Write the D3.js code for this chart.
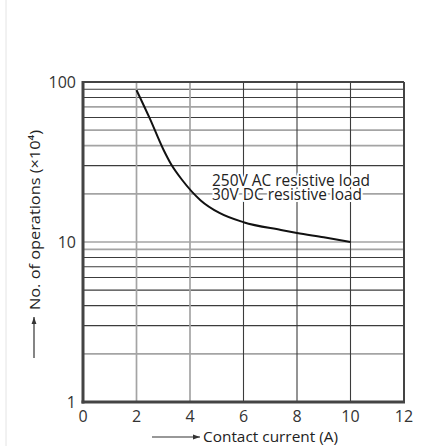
<!DOCTYPE html>
<html><head><meta charset="utf-8">
<script src="https://cdn.jsdelivr.net/npm/d3@7"></script>
<style>body{margin:0;background:#fff}svg{display:block}</style>
</head><body>
<svg id="c" width="445" height="446"></svg>
<script>
const currentA = [2, 2.5, 3, 3.3, 3.7, 4.4, 5.1, 6, 7.4, 8, 9, 10];
const operations = [89, 59, 38, 30.5, 24.5, 18.2, 15.2, 13.3, 11.9, 11.4, 10.7, 10.0];
const xTicks = [0, 2, 4, 6, 8, 10, 12];
const yTicks = [1, 10, 100];
const yGrid = [2, 3, 4, 5, 6, 7, 8, 9, 10, 20, 30, 40, 50, 60, 70, 80, 90];
const yGridDark = [90, 80, 60, 30, 8, 7, 6, 5, 4, 3];
const xGrid = [2, 4, 6, 8, 10];
const xGridDark = [6, 8, 10];
const labelLines = ["250V AC resistive load", "30V DC resistive load"];
const xTitle = "Contact current (A)";
const yTitle = "No. of operations (×10⁴)";

const svg = d3.select("#c");
const x = d3.scaleLinear().domain([0, 12]).range([83, 404]);
const y = d3.scaleLog().domain([1, 100]).range([402, 82]);
const font = "'Open Sans', 'Noto Sans', sans-serif";

// faint page border
svg.append("line").attr("x1", 6).attr("x2", 6).attr("y1", 0).attr("y2", 446)
  .attr("stroke", "#e4e4e4").attr("stroke-width", 1);

const g = svg.append("g");
g.selectAll("line.hg").data(yGrid).join("line")
  .attr("x1", x(0)).attr("x2", x(12))
  .attr("y1", d => y(d)).attr("y2", d => y(d))
  .attr("stroke", d => yGridDark.includes(d) ? "#3c3c3c" : "#a4a4a4")
  .attr("stroke-width", d => yGridDark.includes(d) ? 1.1 : 1.7);
g.selectAll("line.vg").data(xGrid).join("line")
  .attr("y1", y(1)).attr("y2", y(100))
  .attr("x1", d => x(d)).attr("x2", d => x(d))
  .attr("stroke", d => xGridDark.includes(d) ? "#3c3c3c" : "#a4a4a4")
  .attr("stroke-width", d => xGridDark.includes(d) ? 1.1 : 1.7);

// frame
svg.append("line").attr("x1", x(0)).attr("x2", x(12)).attr("y1", y(100)).attr("y2", y(100))
  .attr("stroke", "#444").attr("stroke-width", 2);
svg.append("line").attr("x1", x(12)).attr("x2", x(12)).attr("y1", y(100)).attr("y2", y(1))
  .attr("stroke", "#444").attr("stroke-width", 2);
svg.append("line").attr("x1", x(0)).attr("x2", x(0)).attr("y1", y(100) - 1).attr("y2", y(1) + 1.5)
  .attr("stroke", "#444").attr("stroke-width", 3);
svg.append("line").attr("x1", x(0) - 1.5).attr("x2", x(12) + 1).attr("y1", y(1)).attr("y2", y(1))
  .attr("stroke", "#444").attr("stroke-width", 3);

// curve label with white halo
const lab = svg.append("text").attr("font-family", font).attr("font-size", 15.5)
  .attr("fill", "#222").attr("stroke", "#fff").attr("stroke-width", 4)
  .attr("paint-order", "stroke").attr("stroke-linejoin", "round");
lab.append("tspan").attr("x", 212).attr("y", 186).text(labelLines[0])
  .attr("textLength", 158).attr("lengthAdjust", "spacingAndGlyphs");
lab.append("tspan").attr("x", 212).attr("y", 200).text(labelLines[1])
  .attr("textLength", 150).attr("lengthAdjust", "spacingAndGlyphs");

// curve
const line = d3.line().x((d, i) => x(currentA[i])).y(d => y(d)).curve(d3.curveMonotoneX);
svg.append("path").attr("d", line(operations)).attr("fill", "none")
  .attr("stroke", "#111").attr("stroke-width", 2);

// tick labels
svg.selectAll("text.xt").data(xTicks).join("text")
  .attr("x", d => x(d)).attr("y", 422).attr("text-anchor", "middle")
  .attr("font-family", font).attr("font-size", 16).attr("fill", "#333").text(d => d);
svg.selectAll("text.yt").data(yTicks).join("text")
  .attr("x", 76).attr("y", d => y(d) + 6).attr("text-anchor", "end")
  .attr("font-family", font).attr("font-size", 16).attr("fill", "#333").text(d => d);

// arrow marker
const defs = svg.append("defs");
defs.append("marker").attr("id", "ah").attr("viewBox", "0 0 10 10").attr("refX", 10).attr("refY", 5)
  .attr("markerWidth", 7).attr("markerHeight", 7).attr("markerUnits", "userSpaceOnUse").attr("orient", "auto")
  .append("path").attr("d", "M0,1.5 L10,5 L0,8.5 Z").attr("fill", "#333");

// x title
svg.append("line").attr("x1", 152).attr("x2", 200).attr("y1", 437).attr("y2", 437)
  .attr("stroke", "#333").attr("stroke-width", 1.2).attr("marker-end", "url(#ah)");
svg.append("text").attr("x", 203).attr("y", 442).attr("font-family", font).attr("font-size", 14.5)
  .attr("fill", "#222").text(xTitle).attr("textLength", 135).attr("lengthAdjust", "spacingAndGlyphs");

// y title
svg.append("line").attr("x1", 34).attr("x2", 34).attr("y1", 358).attr("y2", 317)
  .attr("stroke", "#333").attr("stroke-width", 1.2).attr("marker-end", "url(#ah)");
svg.append("text").attr("transform", "translate(40,310) rotate(-90)")
  .attr("font-family", font).attr("font-size", 14).attr("fill", "#222")
  .text(yTitle).attr("textLength", 180).attr("lengthAdjust", "spacingAndGlyphs");
</script>
</body></html>
